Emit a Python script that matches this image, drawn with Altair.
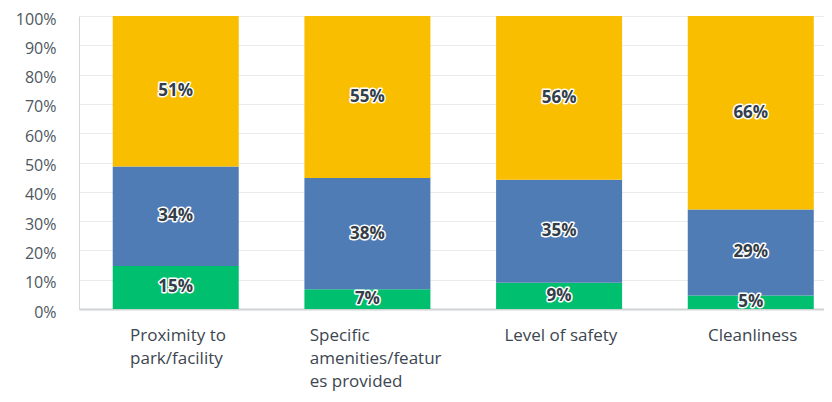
import altair as alt
import pandas as pd

categories = ["Proximity to park/facility", "Specific amenities/features provided",
              "Level of safety", "Cleanliness"]
label_lines = ["Proximity to\npark/facility", "Specific\namenities/featur\nes provided",
               "Level of safety", "Cleanliness"]
series = ["Series 1", "Series 2", "Series 3"]
colors = ["#00BF6F", "#507CB6", "#F9BE00"]

green = [14.7, 6.7, 9.0, 4.6]
blue = [33.9, 38.0, 35.1, 29.4]
yellow = [51.4, 55.3, 55.9, 66.0]

rows = []
for i, c in enumerate(categories):
    for k, (s, vals) in enumerate(zip(series, [green, blue, yellow])):
        rows.append({"category": c, "series": s, "order": k, "value": vals[i]})
df = pd.DataFrame(rows)
lab_df = pd.DataFrame({"category": categories, "label": label_lines})

FONT = "Open Sans"
TXT = "#333E48"

xscale = alt.Scale(range=[0, 768.5], paddingInner=0.3426, paddingOuter=0.176)
xaxis = alt.Axis(labels=False, ticks=False, title=None, grid=False,
                 domainColor="#D0D2D3", domainWidth=2)


def xe():
    return alt.X("category:N", sort=categories, scale=xscale, axis=xaxis)


yscale = alt.Scale(domain=[0, 100], nice=False)
yaxis = alt.Axis(values=list(range(0, 101, 10)), labelExpr="datum.value + '%'",
                 title=None, ticks=False, domain=True, domainColor="#D6D6D6",
                 gridColor="#EBEBEB", labelPadding=23, labelFontSize=16, labelOffset=3,
                 labelOverlap=False, labelFont=FONT, labelColor="#4D5760")


def ye(field):
    return alt.Y(field, scale=yscale, axis=yaxis)


base = alt.Chart(df).transform_stack(
    stack="value", groupby=["category"], as_=["y0", "y1"],
    sort=[alt.SortField("order")]
).transform_calculate(
    mid="(datum.y0 + datum.y1) / 2",
    lbl="format(datum.value, '.0f') + '%'"
)

bars = base.mark_bar().encode(
    x=xe(), y=ye("y0:Q"), y2="y1:Q",
    color=alt.Color("series:N", scale=alt.Scale(domain=series, range=colors), legend=None),
)

halo = base.mark_text(font=FONT, fontSize=17, fontWeight="bold", fill="white",
                      stroke="white", strokeWidth=3, strokeJoin="round").encode(
    x=xe(), y=ye("mid:Q"), text="lbl:N")
txt = base.mark_text(font=FONT, fontSize=17, fontWeight="bold", fill=TXT).encode(
    x=xe(), y=ye("mid:Q"), text="lbl:N")

offsets = [-45.7, -57.7, -54.7, -42.7]
label_layers = []
for c, dx in zip(categories, offsets):
    label_layers.append(
        alt.Chart(lab_df).transform_filter(alt.datum.category == c).mark_text(
            font=FONT, fontSize=17, color="#3C4650", align="left", baseline="middle",
            lineBreak="\n", lineHeight=23.2, dx=dx
        ).encode(x=xe(), y=alt.value(320), text="label:N")
    )

chart = alt.layer(bars, halo, txt, *label_layers).properties(
    width=745, height=293,
    autosize=alt.AutoSizeParams(type="none"),
    padding={"left": 71, "top": 8, "right": 0, "bottom": 85},
).configure_view(stroke=None)

chart.save("out.html", embed_options={"renderer": "svg", "actions": False})
